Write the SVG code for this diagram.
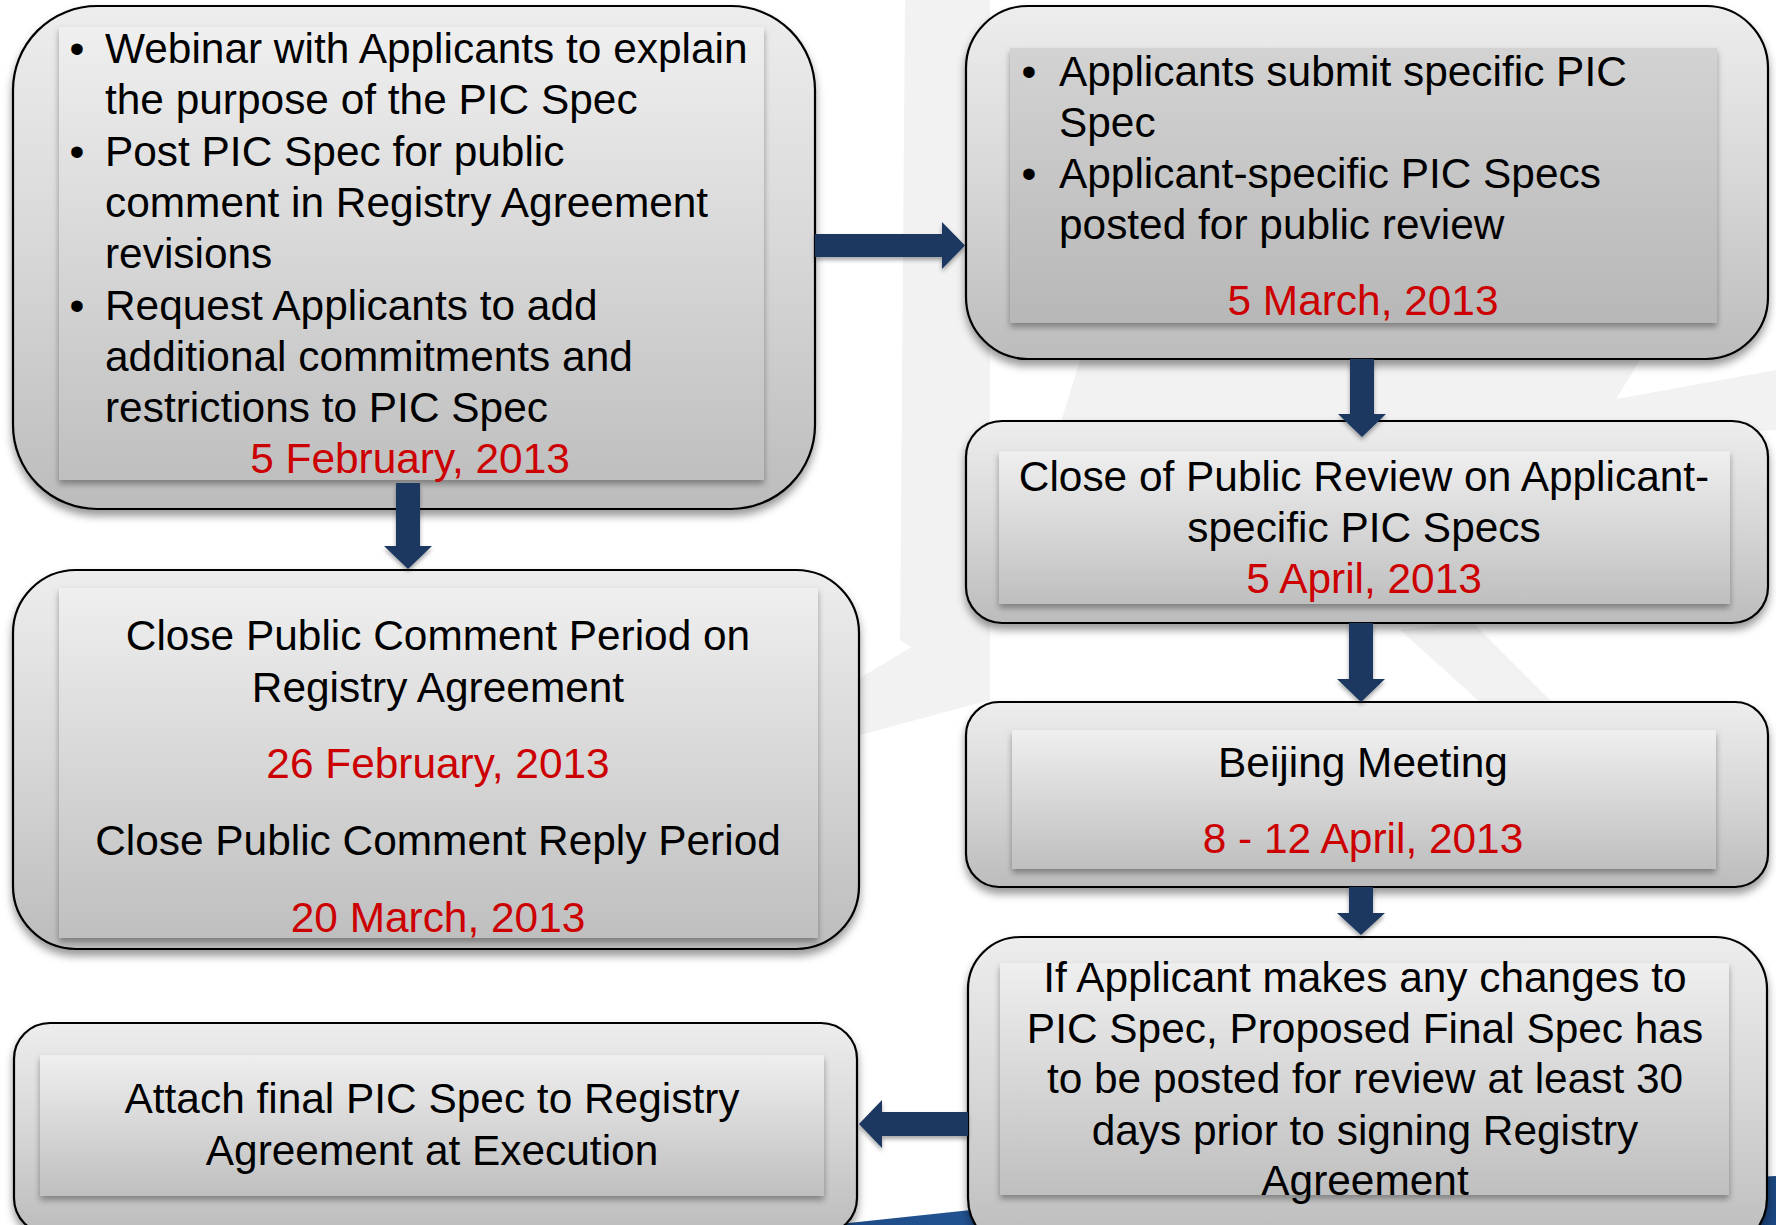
<svg xmlns="http://www.w3.org/2000/svg" width="1776" height="1225" viewBox="0 0 1776 1225">
<defs>
<linearGradient id="gOuter" x1="0" y1="0" x2="0" y2="1">
<stop offset="0" stop-color="#ededed"/><stop offset="0.5" stop-color="#d7d7d7"/><stop offset="1" stop-color="#bcbcbc"/>
</linearGradient>
<linearGradient id="gInner" x1="0" y1="0" x2="0" y2="1">
<stop offset="0" stop-color="#efefef"/><stop offset="1" stop-color="#bfbfbf"/>
</linearGradient>
<linearGradient id="gInner2" x1="0" y1="0" x2="0" y2="1">
<stop offset="0" stop-color="#d3d3d3"/><stop offset="1" stop-color="#b7b7b7"/>
</linearGradient>
<linearGradient id="gBlue" x1="0" y1="0" x2="1" y2="0">
<stop offset="0" stop-color="#1d4a86"/><stop offset="0.5" stop-color="#2f6aae"/><stop offset="1" stop-color="#1b467f"/>
</linearGradient>
<filter id="shOuter" x="-5%" y="-5%" width="110%" height="120%">
<feDropShadow dx="0" dy="6" stdDeviation="4" flood-color="#000" flood-opacity="0.4"/>
</filter>
<filter id="shInner" x="-5%" y="-5%" width="110%" height="120%">
<feDropShadow dx="0" dy="4" stdDeviation="3" flood-color="#000" flood-opacity="0.35"/>
</filter>
<filter id="shArrow" x="-20%" y="-20%" width="140%" height="140%">
<feDropShadow dx="0" dy="3" stdDeviation="2" flood-color="#000" flood-opacity="0.35"/>
</filter>
<style>
.outer{fill:url(#gOuter);stroke:#000;stroke-width:2.2;filter:url(#shOuter)}
.inner{fill:url(#gInner);filter:url(#shInner)}
.inner2{fill:url(#gInner2);filter:url(#shInner)}
.t{font-family:"Liberation Sans",Arial,sans-serif;font-size:42.4px;fill:#000}
.c{text-anchor:middle}
.d{fill:#cc0000}
.arrow{fill:#1a3860;filter:url(#shArrow)}
.wm{fill:#f2f2f2}
</style>
</defs>
<rect x="0" y="0" width="1776" height="1225" fill="#ffffff"/>
<g id="background">
<polygon class="wm" points="905,0 990,0 990,700 900,640"/>
<polygon class="wm" points="840,690 990,600 990,700 860,735"/>
<polygon class="wm" points="1500,420 1776,370 1776,430 1560,440"/>
<polygon class="wm" points="1400,630 1470,620 1560,710 1500,720"/>
<polygon class="wm" points="1080,360 1640,360 1600,425 1060,425"/>
<path d="M830 1225 L971 1210 L1776 1176 L1776 1225 Z" fill="url(#gBlue)"/>
</g>
<g id="node-webinar">
<rect class="outer" x="13" y="6" width="802" height="503" rx="84" ry="84"/>
<rect class="inner" x="59" y="27" width="705" height="453"/>
<text class="t" x="77" y="63" text-anchor="middle">•</text>
<text class="t" x="105" y="63">Webinar with Applicants to explain</text>
<text class="t" x="105" y="114.3">the purpose of the PIC Spec</text>
<text class="t" x="77" y="165.6" text-anchor="middle">•</text>
<text class="t" x="105" y="165.6">Post PIC Spec for public</text>
<text class="t" x="105" y="216.9">comment in Registry Agreement</text>
<text class="t" x="105" y="268.2">revisions</text>
<text class="t" x="77" y="319.5" text-anchor="middle">•</text>
<text class="t" x="105" y="319.5">Request Applicants to add</text>
<text class="t" x="105" y="370.8">additional commitments and</text>
<text class="t" x="105" y="422.1">restrictions to PIC Spec</text>
<text class="t c d" x="410" y="473">5 February, 2013</text>
</g>
<g id="node-submit">
<rect class="outer" x="966" y="6" width="802" height="353" rx="62" ry="62"/>
<rect class="inner2" x="1010" y="48" width="707" height="275"/>
<text class="t" x="1029" y="86" text-anchor="middle">•</text>
<text class="t" x="1059" y="86">Applicants submit specific PIC</text>
<text class="t" x="1059" y="137">Spec</text>
<text class="t" x="1029" y="188" text-anchor="middle">•</text>
<text class="t" x="1059" y="188">Applicant-specific PIC Specs</text>
<text class="t" x="1059" y="239">posted for public review</text>
<text class="t c d" x="1363" y="315">5 March, 2013</text>
</g>
<g id="node-close-review">
<rect class="outer" x="966" y="421" width="802" height="202" rx="36" ry="36"/>
<rect class="inner" x="999" y="451" width="731" height="153"/>
<text class="t c" x="1364" y="491">Close of Public Review on Applicant-</text>
<text class="t c" x="1364" y="542">specific PIC Specs</text>
<text class="t c d" x="1364" y="593">5 April, 2013</text>
</g>
<g id="node-beijing">
<rect class="outer" x="966" y="702" width="802" height="185" rx="33" ry="33"/>
<rect class="inner" x="1012" y="730" width="704" height="139"/>
<text class="t c" x="1363" y="777">Beijing Meeting</text>
<text class="t c d" x="1363" y="853">8 - 12 April, 2013</text>
</g>
<g id="node-close-comment">
<rect class="outer" x="13" y="570" width="846" height="379" rx="63" ry="63"/>
<rect class="inner" x="59" y="588" width="759" height="350"/>
<text class="t c" x="438" y="650">Close Public Comment Period on</text>
<text class="t c" x="438" y="702">Registry Agreement</text>
<text class="t c d" x="438" y="778">26 February, 2013</text>
<text class="t c" x="438" y="855">Close Public Comment Reply Period</text>
<text class="t c d" x="438" y="932">20 March, 2013</text>
</g>
<g id="node-final-spec">
<rect class="outer" x="968" y="937" width="799" height="313" rx="52" ry="52"/>
<rect class="inner" x="1000" y="963" width="729" height="232"/>
<text class="t c" x="1365" y="992">If Applicant makes any changes to</text>
<text class="t c" x="1365" y="1043">PIC Spec, Proposed Final Spec has</text>
<text class="t c" x="1365" y="1093">to be posted for review at least 30</text>
<text class="t c" x="1365" y="1145">days prior to signing Registry</text>
<text class="t c" x="1365" y="1195">Agreement</text>
</g>
<g id="node-attach">
<rect class="outer" x="14" y="1023" width="843" height="211" rx="36" ry="36"/>
<rect class="inner" x="40" y="1055" width="784" height="141"/>
<text class="t c" x="432" y="1113">Attach final PIC Spec to Registry</text>
<text class="t c" x="432" y="1165">Agreement at Execution</text>
</g>
<g id="connectors">
<polygon class="arrow" points="815,234 942,234 942,222 965,245.5 942,269 942,257 815,257"/>
<polygon class="arrow" points="396,483 420,483 420,546 432,546 408,569 384,546 396,546"/>
<polygon class="arrow" points="1350,359 1374,359 1374,414 1386,414 1362,437 1338,414 1350,414"/>
<polygon class="arrow" points="1349,623 1373,623 1373,679 1385,679 1361,702 1337,679 1349,679"/>
<polygon class="arrow" points="1349,887 1373,887 1373,913 1385,913 1361,935 1337,913 1349,913"/>
<polygon class="arrow" points="968,1112 882,1112 882,1100 859,1124 882,1148 882,1136 968,1136"/>
</g>
</svg>
